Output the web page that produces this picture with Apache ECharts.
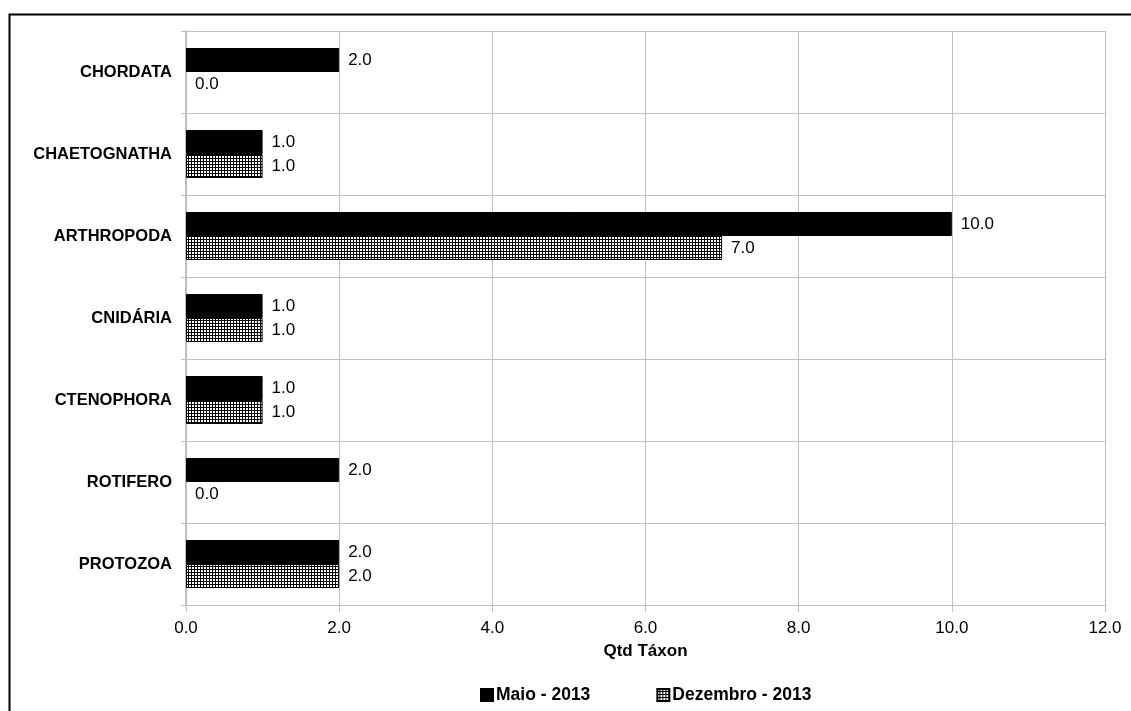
<!DOCTYPE html>
<html>
<head>
<meta charset="utf-8">
<script src="https://cdn.jsdelivr.net/npm/echarts@6/dist/echarts.min.js"></script>
<style>
  html, body { margin: 0; padding: 0; background: #fff; }
  #chart { width: 1131px; height: 711px; }
</style>
</head>
<body>
<div id="chart"></div>
<script>
// Taxonomic groups, listed top to bottom
const categories = ['CHORDATA', 'CHAETOGNATHA', 'ARTHROPODA', 'CNIDÁRIA', 'CTENOPHORA', 'ROTIFERO', 'PROTOZOA'];
const maio2013 = [2, 1, 10, 1, 1, 2, 2];
const dezembro2013 = [0, 1, 7, 1, 1, 0, 2];
const seriesNames = ['Maio - 2013', 'Dezembro - 2013'];
const xTicks = { min: 0, max: 12, interval: 2 };

// Small grid hatch used to fill the second series
function hatchPattern() {
  const c = document.createElement('canvas');
  c.width = 3; c.height = 3;
  const g = c.getContext('2d');
  g.fillStyle = '#ffffff';
  g.fillRect(0, 0, 3, 3);
  g.fillStyle = '#000000';
  g.fillRect(0, 2, 3, 1);
  g.fillRect(2, 0, 1, 3);
  return c;
}

// Zero-length bars get no outline so only the label remains
const barData = values => values.map(v => (v === 0 ? { value: v, itemStyle: { borderWidth: 0 } } : v));

const FONT = '"Liberation Sans", Arial, sans-serif';
const chart = echarts.init(document.getElementById('chart'));

const labelCfg = {
  show: true,
  position: 'right',
  distance: 9,
  color: '#000',
  fontFamily: FONT,
  fontSize: 17,
  formatter: p => Number(p.value).toFixed(1)
};

chart.setOption({
  animation: false,
  backgroundColor: '#fff',
  graphic: [{
    type: 'rect',
    silent: true,
    shape: { x: 9.5, y: 14.5, width: 1300, height: 900 },
    style: { fill: 'none', stroke: '#000', lineWidth: 2 }
  }],
  grid: { left: 186, right: 26, top: 31, bottom: 106, containLabel: false },
  legend: {
    data: seriesNames,
    bottom: 2,
    left: 475,
    itemGap: 66,
    itemWidth: 12,
    itemHeight: 12,
    icon: 'rect',
    textStyle: { fontFamily: FONT, fontSize: 17.5, fontWeight: 'bold', color: '#000', padding: [0, 0, 0, -2] }
  },
  xAxis: {
    type: 'value',
    min: xTicks.min,
    max: xTicks.max,
    interval: xTicks.interval,
    name: 'Qtd Táxon',
    nameLocation: 'middle',
    nameGap: 38,
    nameTextStyle: { fontFamily: FONT, fontSize: 17, fontWeight: 'bold', color: '#000' },
    axisLine: { show: true, lineStyle: { color: '#bfbfbf', width: 1 } },
    axisTick: { show: true, length: 7, lineStyle: { color: '#bfbfbf' } },
    axisLabel: {
      fontFamily: FONT, fontSize: 17, color: '#000', margin: 15,
      formatter: v => v.toFixed(1)
    },
    splitLine: { show: true, lineStyle: { color: '#bfbfbf', width: 1 } }
  },
  yAxis: {
    type: 'category',
    data: categories,
    inverse: true,
    axisLine: { show: true, lineStyle: { color: '#bfbfbf', width: 2 } },
    axisTick: { show: true, length: 5, lineStyle: { color: '#bfbfbf' } },
    axisLabel: { fontFamily: FONT, fontSize: 16.5, fontWeight: 'bold', color: '#000', margin: 14 },
    splitLine: { show: true, lineStyle: { color: '#bfbfbf', width: 1 } }
  },
  series: [
    {
      name: seriesNames[0],
      type: 'bar',
      data: barData(maio2013),
      barWidth: 24,
      barGap: '0%',
      itemStyle: { color: '#000', borderColor: '#000', borderWidth: 1 },
      label: labelCfg
    },
    {
      name: seriesNames[1],
      type: 'bar',
      data: barData(dezembro2013),
      barWidth: 24,
      barGap: '0%',
      itemStyle: {
        color: { image: hatchPattern(), repeat: 'repeat' },
        borderColor: '#000',
        borderWidth: 1
      },
      label: labelCfg
    }
  ]
});
</script>
</body>
</html>
